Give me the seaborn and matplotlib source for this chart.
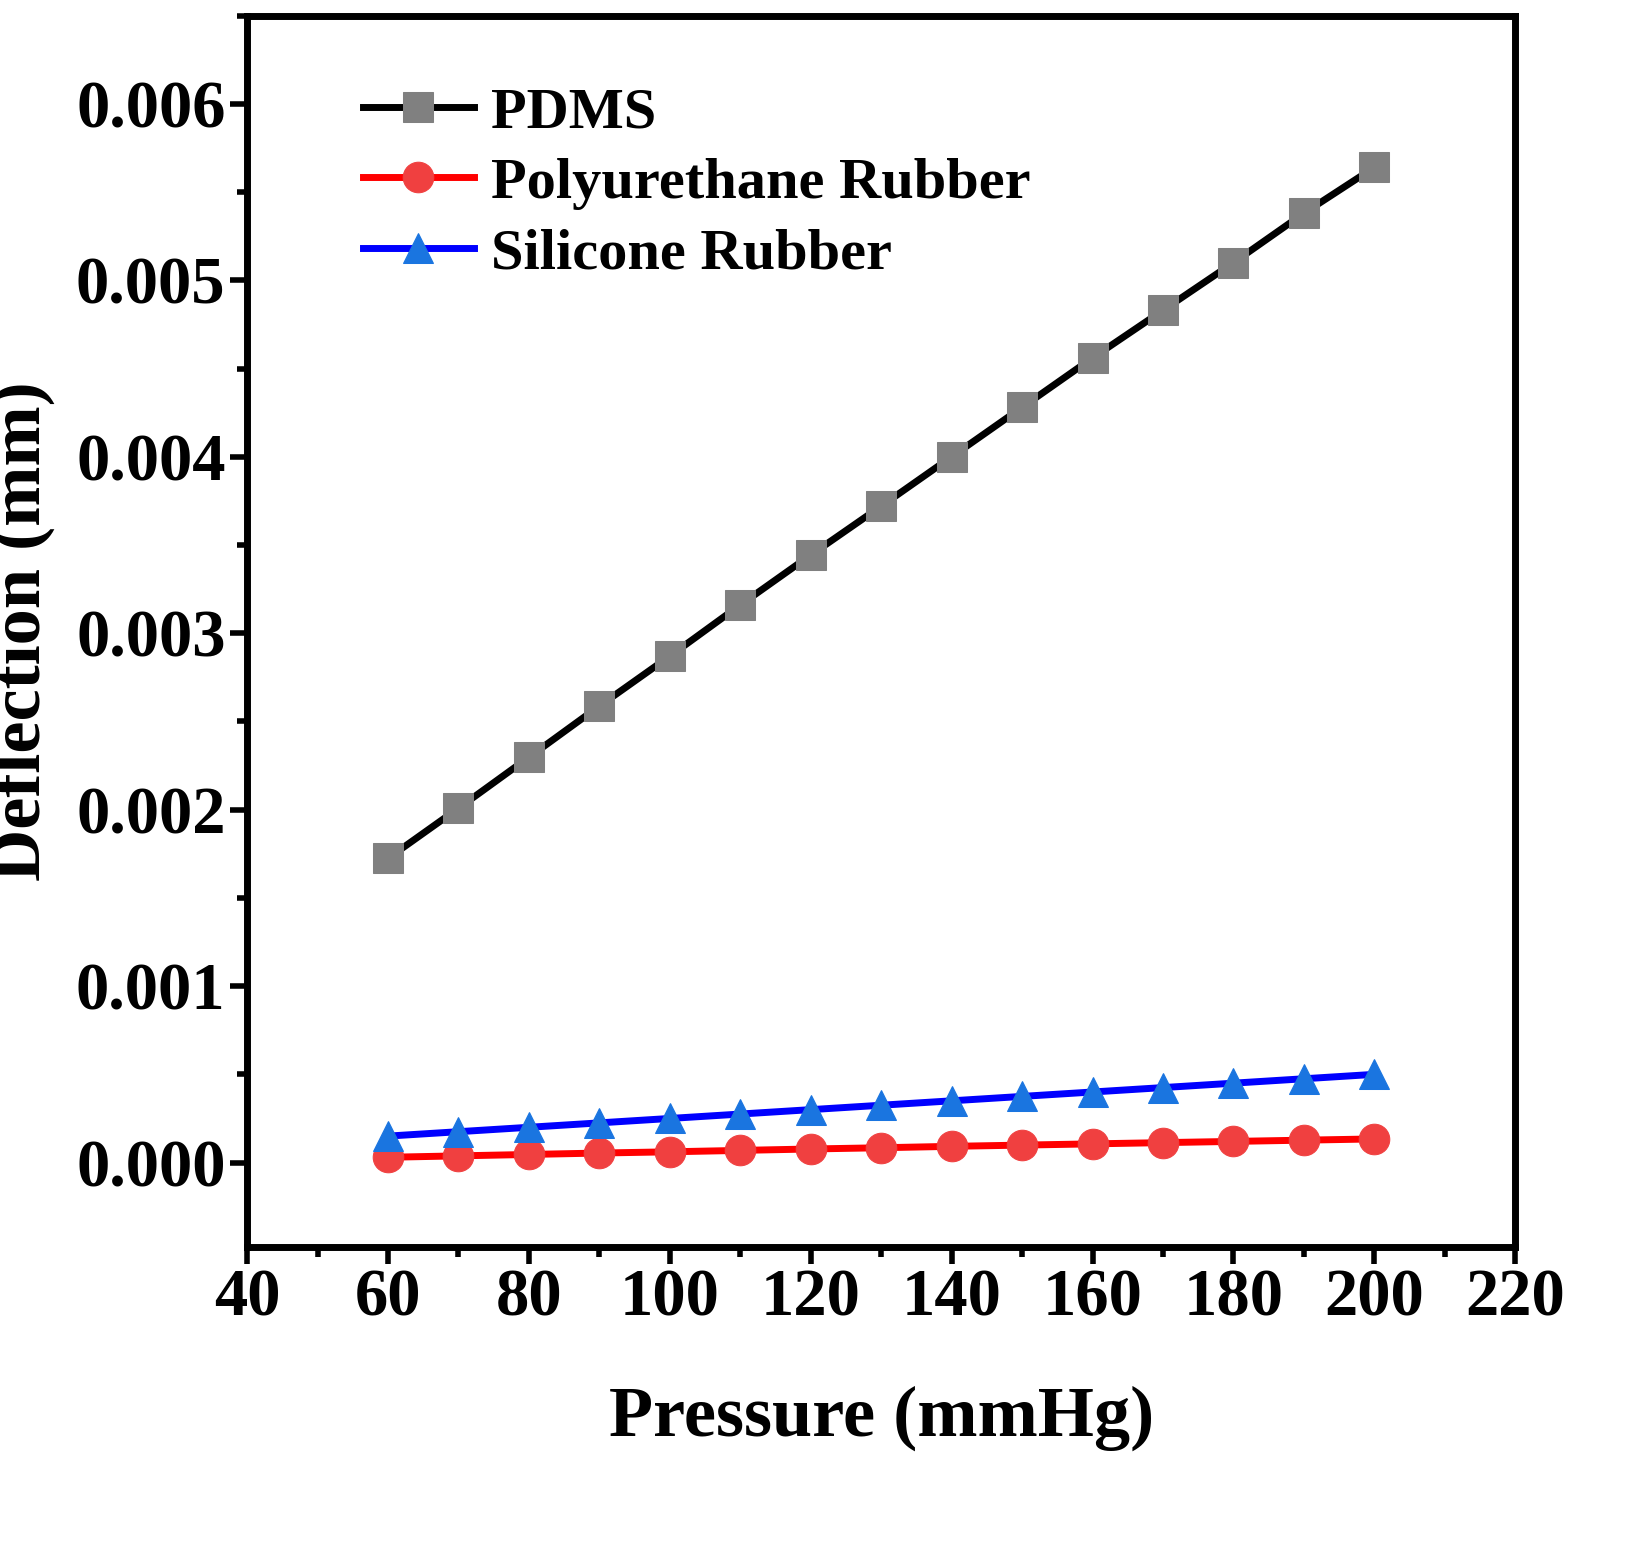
import numpy as np
import pandas as pd
import seaborn as sns
import matplotlib.pyplot as plt
from matplotlib.ticker import MultipleLocator, FormatStrFormatter

pressure = [60, 70, 80, 90, 100, 110, 120, 130, 140, 150, 160, 170, 180, 190, 200]
pdms = [0.001724, 0.002008, 0.002297, 0.002587, 0.00287, 0.00316, 0.003443, 0.00372,
        0.0040, 0.00428, 0.00456, 0.00483, 0.00510, 0.00538, 0.00564]
polyurethane = [0.000030, 0.000038, 0.000046, 0.000054, 0.000061, 0.000069, 0.000077, 0.000084,
                0.000092, 0.000099, 0.000106, 0.000113, 0.000120, 0.000127, 0.000134]
silicone = [0.000150, 0.000175, 0.000200, 0.000225, 0.000250, 0.000275, 0.000300, 0.000325,
            0.000350, 0.000375, 0.000400, 0.000425, 0.000450, 0.000475, 0.000500]

df = pd.DataFrame({'Pressure': pressure * 3,
                   'Deflection': pdms + polyurethane + silicone,
                   'Material': ['PDMS'] * 15 + ['Polyurethane Rubber'] * 15 + ['Silicone Rubber'] * 15})

plt.rcParams['font.family'] = 'Liberation Serif'
plt.rcParams['font.weight'] = 'bold'

fig = plt.figure(figsize=(16.47, 15.63), dpi=100)
ax = fig.add_axes([0.15, 0.202, 0.77, 0.788])

styles = {'PDMS': ('black', 's', 'gray'),
          'Polyurethane Rubber': ('red', 'o', '#f04040'),
          'Silicone Rubber': ('blue', '^', '#1a75e0')}
for name, (lc, mk, mc) in styles.items():
    sub = df[df.Material == name]
    sns.lineplot(data=sub, x='Pressure', y='Deflection', ax=ax, color=lc, lw=5,
                 marker=mk, markersize=22, markerfacecolor=mc, markeredgecolor=mc, label=name)

ax.set_xlim(40, 220)
ax.set_ylim(-0.00048, 0.0065)
ax.xaxis.set_major_locator(MultipleLocator(20))
ax.xaxis.set_minor_locator(MultipleLocator(10))
ax.yaxis.set_major_locator(MultipleLocator(0.001))
ax.yaxis.set_minor_locator(MultipleLocator(0.0005))
ax.yaxis.set_major_formatter(FormatStrFormatter('%.3f'))
ax.tick_params(which='major', length=12, width=4, labelsize=48, direction='out')
ax.tick_params(which='minor', length=7, width=4, direction='out')
for s in ax.spines.values():
    s.set_linewidth(5)
ax.set_xlabel('Pressure (mmHg)', fontsize=52, fontweight='bold', labelpad=40)
ax.set_ylabel('Deflection (mm)', fontsize=52, fontweight='bold', labelpad=15)

leg = ax.legend(loc='upper left', frameon=False, fontsize=42, handlelength=1.9,
                handletextpad=0.3, bbox_to_anchor=(0.05, 0.985), labelspacing=0.3)
fig.savefig('out.png', dpi=100)
